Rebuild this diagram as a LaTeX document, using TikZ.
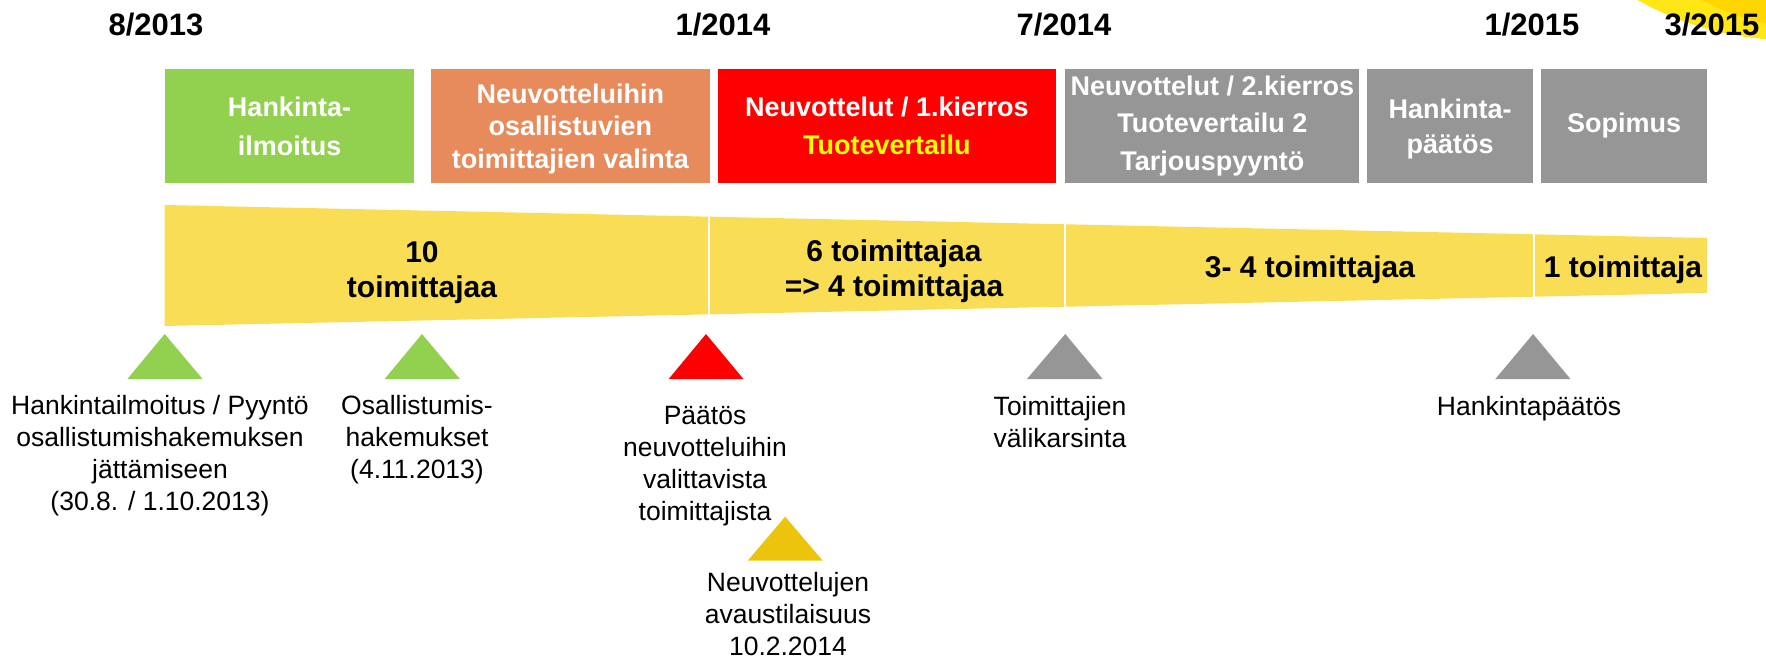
\documentclass[tikz,border=0pt]{standalone}
\usepackage{fontspec}
\setmainfont{Liberation Sans}
\definecolor{cgreen}{HTML}{92D050}
\definecolor{corange}{HTML}{E88B5C}
\definecolor{cred}{HTML}{FF0000}
\definecolor{cgray}{HTML}{969696}
\definecolor{cfunnel}{HTML}{F9DE55}
\definecolor{cgold}{HTML}{EDC40C}
\definecolor{cblobA}{HTML}{FFE617}
\definecolor{cblobB}{HTML}{FFD600}
\definecolor{ctxtyellow}{HTML}{FFFF00}
\begin{document}
\begin{tikzpicture}[x=1pt,y=-1pt,
  datelbl/.style={font=\fontsize{31}{36}\selectfont\bfseries, anchor=base, inner sep=0pt},
  stagebox/.style={draw=none, text=white, align=center, inner sep=0pt,
     minimum height=113.7pt, font=\bfseries},
  funneltxt/.style={font=\fontsize{30}{35}\selectfont\bfseries, align=center, inner sep=0pt},
  evlbl/.style={font=\fontsize{26.5}{32}\selectfont, align=center, inner sep=0pt, anchor=base},
]
\useasboundingbox (0,0) rectangle (1766,658);
% decorative blob top right
\begin{scope}
\clip (0,0) rectangle (1766,658);
\fill[cblobA] (1790,-270) circle[radius=310];
\fill[cblobB] (1830,-250) circle[radius=281];
\end{scope}
% dates
\node[datelbl] (d1) at (156,36) {8/2013};
\node[datelbl] (d2) at (723,36) {1/2014};
\node[datelbl] (d3) at (1064,36) {7/2014};
\node[datelbl] (d4) at (1532,36) {1/2015};
\node[datelbl] (d5) at (1712,36) {3/2015};
% stage boxes
\node[stagebox, fill=cgreen, minimum width=249.7pt, font=\fontsize{27}{39}\selectfont\bfseries] (b1) at (289.5,125.9) {Hankinta-\\ilmoitus};
\node[stagebox, fill=corange, minimum width=279.5pt, font=\fontsize{27}{32.5}\selectfont\bfseries, text depth=-5pt] (b2) at (570.3,125.9) {Neuvotteluihin\\osallistuvien\\toimittajien valinta};
\node[stagebox, fill=cred, minimum width=338.8pt, font=\fontsize{27}{38}\selectfont\bfseries] (b3) at (886.9,125.9) {Neuvottelut / 1.kierros\\\textcolor{ctxtyellow}{Tuotevertailu}};
\node[stagebox, fill=cgray, minimum width=293.9pt, font=\fontsize{27}{37.5}\selectfont\bfseries] (b4) at (1212.3,125.9) {Neuvottelut / 2.kierros\\Tuotevertailu 2\\Tarjouspyyntö};
\node[stagebox, fill=cgray, minimum width=166.2pt, font=\fontsize{27}{35}\selectfont\bfseries, text depth=-2.5pt] (b5) at (1450.1,125.9) {Hankinta-\\päätös};
\node[stagebox, fill=cgray, minimum width=166.2pt, font=\fontsize{27}{35}\selectfont\bfseries] (b6) at (1624.1,125.9) {Sopimus};
% funnel
\fill[cfunnel] (164.7,205) -- (1707.2,238) -- (1707.2,293) -- (164.7,326) -- cycle;
\draw[white, line width=2pt] (709,216.7) -- (709,314.3);
\draw[white, line width=2pt] (1065.3,224.3) -- (1065.3,306.7);
\draw[white, line width=2pt] (1533.7,234.3) -- (1533.7,296.7);
\node[funneltxt] (f1) at (422,273) {10\\toimittajaa};
\node[funneltxt] (f2) at (894,271) {6 toimittajaa\\=> 4 toimittajaa};
\node[funneltxt, anchor=base] (f3) at (1310,277) {3- 4 toimittajaa};
\node[funneltxt, anchor=base] (f4) at (1623,277.5) {1 toimittaja};
% triangles
\fill[cgreen] (127.4,379) -- (164.7,334) -- (202.6,379) -- cycle;
\fill[cgreen] (384.6,379) -- (422,334) -- (459.8,379) -- cycle;
\fill[cred] (668.7,379) -- (706,334) -- (743.4,379) -- cycle;
\fill[cgold] (747.7,560.7) -- (785.2,516.7) -- (822.7,560.7) -- cycle;
\fill[cgray] (1026.9,379) -- (1065.3,334) -- (1102.6,379) -- cycle;
\fill[cgray] (1495.3,379) -- (1533.1,334) -- (1570.4,379) -- cycle;
% event labels (base = baseline of last line)
\node[evlbl] (e1) at (160,510) {Hankintailmoitus / Pyyntö\\osallistumishakemuksen\\jättämiseen\\(30.8. / 1.10.2013)};
\node[evlbl] (e2) at (417,478) {Osallistumis-\\hakemukset\\(4.11.2013)};
\node[evlbl] (e3) at (705,520) {Päätös\\neuvotteluihin\\valittavista\\toimittajista};
\node[evlbl] (e4) at (788,655) {Neuvottelujen\\avaustilaisuus\\10.2.2014};
\node[evlbl] (e5) at (1060,447) {Toimittajien\\välikarsinta};
\node[evlbl] (e6) at (1529,415) {Hankintapäätös};
\end{tikzpicture}
\end{document}
